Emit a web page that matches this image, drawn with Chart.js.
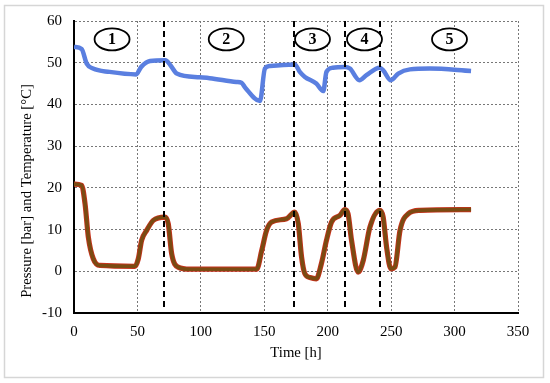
<!DOCTYPE html>
<html>
<head>
<meta charset="utf-8">
<script src="https://cdn.jsdelivr.net/npm/chart.js@4/dist/chart.umd.min.js"></script>
<style>
  html, body { margin: 0; padding: 0; background: #fff; }
  #wrap { width: 550px; height: 383px; position: relative; }
</style>
</head>
<body>
<div id="wrap"><canvas id="c" width="550" height="383"></canvas></div>
<script>
// ---- data ----
const tempTime = [0, 6, 10, 15, 28, 49, 53, 60, 72, 76, 81, 99, 107, 128, 132, 135, 146.6, 150.5, 154.5, 174, 178, 182, 191, 196.5, 199, 204, 213.5, 217.5, 225, 230.5, 241, 243.7, 249.8, 255.6, 264.8, 280.5, 313];
const tempVal  = [53.8, 53.3, 49.8, 48.6, 47.8, 47.2, 49, 50.4, 50.6, 49.4, 47.4, 46.5, 46.3, 45.4, 45.2, 44, 40.8, 48.6, 49.2, 49.6, 47.8, 46.6, 45, 43.2, 47.8, 48.8, 49, 48.6, 45.8, 47, 48.8, 48.2, 45.8, 47.4, 48.4, 48.6, 48];

const presTime = [0, 6, 8.7, 11.3, 15.2, 20.5, 48, 50.7, 53.3, 57.3, 62.5, 71.7, 74.3, 77, 82, 91.4, 144, 148, 151.8, 155.8, 167.6, 174, 176.8, 179.4, 182, 186, 191, 195, 199, 203, 209.6, 213.5, 216, 218.8, 224, 228, 233.3, 241, 243.7, 246.4, 249.8, 253, 257, 263.5, 272.7, 313];
const presVal  = [20.9, 20.6, 16.2, 8.2, 3, 1.4, 1.2, 3, 7.4, 9.8, 12.2, 13, 11.4, 4.2, 1, 0.5, 0.5, 5, 9.8, 11.8, 12.6, 14.2, 11.4, 3.4, -0.6, -1.5, -1.8, 1.8, 7.4, 11.8, 13.4, 14.8, 13.8, 7.4, -0.2, 2.6, 10.6, 14.6, 13, 5.8, 0.6, 1, 9.8, 13.8, 14.6, 14.8];

const phaseLines  = [71, 173.5, 213.5, 241];
const phaseLabels = ['1', '2', '3', '4', '5'];
const phaseLabelX = [30, 120, 188, 229, 296];
const phaseLabelY = 55.6;

const xTitle = 'Time [h]';
const yTitle = 'Pressure [bar] and Temperature [°C]';

const toPts = (t, v) => t.map((x, i) => ({ x: x, y: v[i] }));
const SERIF = "'Liberation Serif', 'DejaVu Serif', serif";

const decor = {
  id: 'decor',
  beforeDraw(chart) {
    const ctx = chart.ctx;
    ctx.save();
    ctx.fillStyle = '#fff';
    ctx.fillRect(0, 0, chart.width, chart.height);
    ctx.strokeStyle = '#d6d6d6';
    ctx.lineWidth = 1.5;
    ctx.strokeRect(4.5, 5.5, 539, 372);
    ctx.restore();
  },
  afterDatasetsDraw(chart) {
    const ctx = chart.ctx, xs = chart.scales.x, ys = chart.scales.y;
    const a = chart.chartArea;
    ctx.save();
    ctx.strokeStyle = '#000';
    ctx.lineWidth = 2;
    ctx.setLineDash([6, 4]);
    phaseLines.forEach(t => {
      const px = Math.round(xs.getPixelForValue(t));
      ctx.beginPath();
      ctx.moveTo(px, a.top);
      ctx.lineTo(px, a.bottom - 5);
      ctx.stroke();
    });
    ctx.setLineDash([]);
    ctx.lineWidth = 1.8;
    ctx.font = 'bold 16px ' + SERIF;
    ctx.textAlign = 'center';
    ctx.textBaseline = 'middle';
    phaseLabels.forEach((lab, i) => {
      const cx = xs.getPixelForValue(phaseLabelX[i]);
      const cy = ys.getPixelForValue(phaseLabelY);
      ctx.fillStyle = '#fff';
      ctx.beginPath();
      ctx.ellipse(cx, cy, 17.5, 11, 0, 0, Math.PI * 2);
      ctx.fill();
      ctx.stroke();
      ctx.fillStyle = '#000';
      ctx.fillText(lab, cx, cy + 1);
    });
    ctx.restore();
  },
  afterDraw(chart) {
    const ctx = chart.ctx, a = chart.chartArea;
    ctx.save();
    ctx.fillStyle = '#000';
    ctx.font = '14.7px ' + SERIF;
    ctx.textAlign = 'center';
    ctx.textBaseline = 'middle';
    ctx.fillText(xTitle, (a.left + a.right) / 2, 353);
    ctx.translate(27, 191);
    ctx.rotate(-Math.PI / 2);
    ctx.fillText(yTitle, 0, 0);
    ctx.restore();
  }
};

new Chart(document.getElementById('c'), {
  type: 'line',
  data: {
    datasets: [
      { label: 'Temperature', data: toPts(tempTime, tempVal), borderColor: '#5a7fe0', borderWidth: 4.5,
        pointRadius: 0, cubicInterpolationMode: 'monotone', fill: false, order: 1 },
      { label: 'Pressure', data: toPts(presTime, presVal), borderColor: '#7a4b12', borderWidth: 3.6,
        pointRadius: 0, cubicInterpolationMode: 'monotone', fill: false, order: 1 },
      { label: 'Pressure outline', data: toPts(presTime, presVal), borderColor: '#c8321c', borderWidth: 5.2,
        pointRadius: 0, cubicInterpolationMode: 'monotone', fill: false, order: 2 }
    ]
  },
  options: {
    responsive: false,
    animation: false,
    events: [],
    layout: { padding: { top: 21, right: 32, left: 0, bottom: 0 } },
    plugins: { legend: { display: false }, tooltip: { enabled: false } },
    scales: {
      x: {
        type: 'linear', min: 0, max: 350,
        afterFit(s) { s.height = 70; },
        ticks: { stepSize: 50, color: '#000', font: { family: SERIF, size: 15 }, padding: 10, maxRotation: 0 },
        grid: { color: '#777', lineWidth: 1, drawTicks: false },
        border: { display: true, color: '#000', width: 2, dash: [2, 2] }
      },
      y: {
        min: -10, max: 60,
        afterFit(s) { s.width = 74; },
        ticks: { stepSize: 10, color: '#000', font: { family: SERIF, size: 15 }, padding: 12 },
        grid: { color: '#777', lineWidth: 1, drawTicks: false },
        border: { display: true, color: '#000', width: 2, dash: [2, 2] }
      }
    }
  },
  plugins: [decor]
});
</script>
</body>
</html>
